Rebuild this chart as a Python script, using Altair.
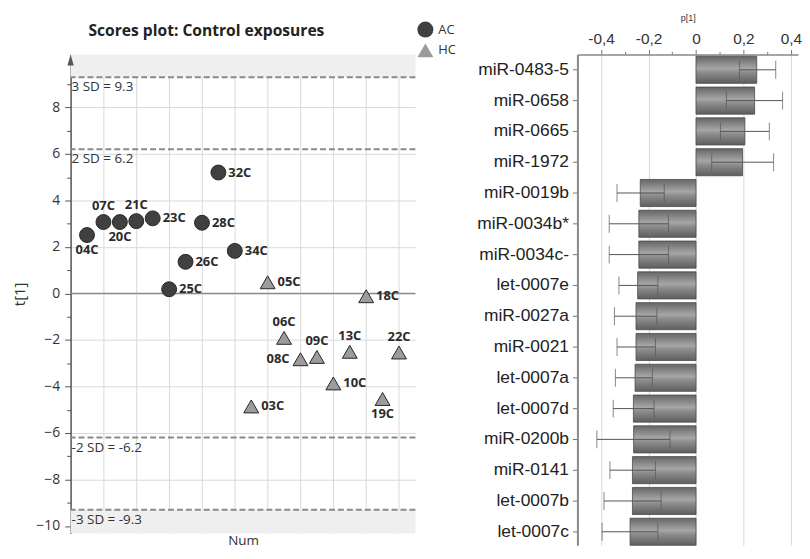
import altair as alt
import pandas as pd

# ---------------- data: scores plot ----------------
sample_ids = ["04C", "07C", "20C", "21C", "23C", "25C", "26C", "28C", "32C", "34C",
              "03C", "05C", "06C", "08C", "09C", "10C", "13C", "18C", "19C", "22C"]
sample_num = list(range(1, 21))
sample_group = ["AC"] * 10 + ["HC"] * 10
t1_scores = [2.51, 3.07, 3.07, 3.11, 3.23, 0.18, 1.36, 3.04, 5.20, 1.83,
             -4.86, 0.48, -1.91, -2.83, -2.73, -3.87, -2.51, -0.12, -4.54, -2.54]
label_side = ["below", "above", "below", "above", "right", "right", "right", "right", "right", "right",
              "right", "right", "above", "left", "above", "right", "above", "right", "below", "above"]

sd_values = [9.3, 6.2, -6.2, -9.3]
sd_labels = ["3 SD = 9.3", "2 SD = 6.2", "-2 SD = -6.2", "-3 SD = -9.3"]

t_range = [-10.32, 10.28]
num_range = [0, 21]

# ---------------- data: loadings plot ----------------
mirna_names = ["miR-0483-5", "miR-0658", "miR-0665", "miR-1972", "miR-0019b", "miR-0034b*",
               "miR-0034c-", "let-0007e", "miR-0027a", "miR-0021", "let-0007a", "let-0007d",
               "miR-0200b", "miR-0141", "let-0007b", "let-0007c"]
p1_values = [0.256, 0.247, 0.206, 0.196, -0.235, -0.241, -0.241, -0.246, -0.253, -0.253,
             -0.257, -0.264, -0.263, -0.268, -0.268, -0.278]
err_lo = [0.183, 0.128, 0.103, 0.066, -0.333, -0.366, -0.366, -0.325, -0.344, -0.333,
          -0.340, -0.349, -0.418, -0.363, -0.388, -0.396]
err_hi = [0.336, 0.365, 0.309, 0.327, -0.134, -0.116, -0.116, -0.161, -0.165, -0.171,
          -0.184, -0.177, -0.110, -0.171, -0.147, -0.161]
p_range = [-0.5, 0.43]

FONT_L = "Open Sans"
FONT_R = "Liberation Sans"
GRID = "#d9d9d9"

# ---------------- left chart ----------------
scores = pd.DataFrame({"id": sample_ids, "num": sample_num, "t1": t1_scores,
                       "group": sample_group, "side": label_side})
sd_df = pd.DataFrame({"v": sd_values, "lab": sd_labels, "x0": [0] * 4})
band_df = pd.DataFrame({"lo": [sd_values[0], t_range[0]], "hi": [t_range[1], sd_values[3]]})
zero_df = pd.DataFrame({"v": [0]})
arrow_df = pd.DataFrame({"x": [0], "y": [t_range[1]]})

xs = alt.Scale(domain=num_range, nice=False, zero=False)
ys = alt.Scale(domain=t_range, nice=False, zero=False)

y_axis_l = alt.Axis(
    values=list(range(-10, 10)),
    labelExpr="datum.value % 2 == 0 ? datum.label : ''",
    labelOverlap=False,
    grid=True, gridColor=GRID,
    gridOpacity={"condition": {"test": "datum.value % 2 != 0", "value": 0}, "value": 1},
    tickSize={"condition": {"test": "datum.value % 2 != 0", "value": 4}, "value": 6},
    tickColor="#555", domainColor="#555", domainWidth=1.5,
    labelFontSize=14, labelColor="#333", labelFont=FONT_L, labelPadding=5,
    title="t[1]", titleFontSize=15, titleFontWeight="normal", titleFont=FONT_L,
    titleColor="#333", titlePadding=8,
)
x_axis_l = alt.Axis(
    values=list(range(2, 21, 2)), labels=False, ticks=False, domain=False,
    grid=True, gridColor=GRID,
    title="Num", titleFontSize=13.5, titleFontWeight="normal", titleFont=FONT_L,
    titleColor="#333", titlePadding=0,
)

def XL(field, **kw):
    return alt.X(field, scale=xs, axis=x_axis_l, **kw)

def YL(field, **kw):
    return alt.Y(field, scale=ys, axis=y_axis_l, **kw)

base_l = alt.Chart(scores)

bands = alt.Chart(band_df).mark_rect(color="#efefef").encode(
    y=YL("lo:Q"), y2="hi:Q",
    x=alt.X(datum=num_range[0], scale=xs, axis=x_axis_l),
    x2=alt.datum(num_range[1]),
)
zero_line = alt.Chart(zero_df).mark_rule(color="#8a8a8a", strokeWidth=1.2).encode(y=YL("v:Q"))
sd_lines = alt.Chart(sd_df).mark_rule(color="#8a8a8a", strokeWidth=2, strokeDash=[6, 3]).encode(
    y=YL("v:Q")
)
sd_text = alt.Chart(sd_df).mark_text(align="left", baseline="top", dx=1, dy=3,
                                     font=FONT_L, fontSize=13.5, color="#333").encode(
    x=XL("x0:Q"), y=YL("v:Q"), text="lab:N"
)
arrow = alt.Chart(arrow_df).mark_point(shape="M0,0L0.9,3.2L-0.9,3.2Z", size=49, filled=True,
                                       color="#555", opacity=1).encode(
    x=XL("x:Q"), y=YL("y:Q")
)
leg = alt.Legend(title=None, orient="none", legendX=348, legendY=-34,
                 labelFont=FONT_L, labelFontSize=13, labelColor="#333",
                 symbolSize=260, symbolStrokeColor="#262626",
                 symbolStrokeWidth=1, rowPadding=1, padding=0)
points = base_l.mark_point(filled=True, size=225, stroke="#262626", strokeWidth=1, opacity=1).encode(
    x=XL("num:Q"),
    y=YL("t1:Q"),
    shape=alt.Shape("group:N", scale=alt.Scale(domain=["AC", "HC"], range=["circle", "triangle-up"]),
                    legend=leg),
    fill=alt.Fill("group:N", scale=alt.Scale(domain=["AC", "HC"], range=["#404040", "#9c9c9c"]),
                  legend=leg),
)

label_style = dict(font=FONT_L, fontSize=13, fontWeight="bold", color="#2a2a2a")
def labels(side, **kw):
    return base_l.transform_filter(alt.datum.side == side).mark_text(**label_style, **kw).encode(
        x=XL("num:Q"), y=YL("t1:Q"), text="id:N"
    )

lab_right = labels("right", align="left", baseline="middle", dx=10)
lab_left = labels("left", align="right", baseline="middle", dx=-11)
lab_above = labels("above", align="center", baseline="alphabetic", dy=-12)
lab_below = labels("below", align="center", baseline="top", dy=9)

left = alt.layer(bands, zero_line, sd_lines, sd_text, arrow, points,
                 lab_right, lab_left, lab_above, lab_below).properties(
    width=347, height=482,
    title=alt.TitleParams("Scores plot: Control exposures", anchor="start", frame="group", dx=18,
                          font=FONT_L, fontSize=15.7, fontWeight="bold", color="#222", offset=15),
)

# ---------------- right chart ----------------
loadings = pd.DataFrame({"name": mirna_names, "p1": p1_values, "lo": err_lo, "hi": err_hi})
xr = alt.Scale(domain=p_range, nice=False, zero=False)
yr = alt.Scale(domain=mirna_names, paddingInner=0.12, paddingOuter=0.03, align=1)

x_axis_r = alt.Axis(
    orient="top",
    values=[-0.4, -0.3, -0.2, -0.1, 0, 0.1, 0.2, 0.3, 0.4],
    labelExpr="abs(round(datum.value*10)) % 2 == 1 ? '' : (datum.value == 0 ? '0' : "
              "(datum.value < 0 ? '-' : '') + replace(format(abs(datum.value), '.1f'), '.', ','))",
    labelOverlap=False,
    grid=True, gridColor=GRID,
    gridOpacity={"condition": {"test": "abs(round(datum.value*10)) % 2 == 1", "value": 0}, "value": 1},
    tickSize={"condition": {"test": "abs(round(datum.value*10)) % 2 == 1", "value": 3}, "value": 5},
    tickColor="#777", domainColor="#888", domainWidth=1.5,
    labelFont=FONT_R, labelFontSize=15.5, labelColor="#333", labelPadding=3,
    title="p[1]", titleFont=FONT_R, titleFontSize=9, titleFontWeight="normal",
    titleColor="#333", titlePadding=9,
)
y_axis_r = alt.Axis(
    title=None, labelFont=FONT_R, labelFontSize=17.5, labelColor="#222", labelPadding=4,
    tickColor="#777", tickSize=5, domainColor="#888", domainWidth=2, labelLimit=200,
)

def XR(field):
    return alt.X(field, scale=xr, axis=x_axis_r)

def YR():
    return alt.Y("name:N", scale=yr, sort=mirna_names, axis=y_axis_r)

grad = alt.Gradient(gradient="linear", x1=0, x2=0, y1=0, y2=1,
                    stops=[alt.GradientStop(color="#666666", offset=0),
                           alt.GradientStop(color="#a6a6a6", offset=0.45),
                           alt.GradientStop(color="#8c8c8c", offset=0.6),
                           alt.GradientStop(color="#5e5e5e", offset=1)])

base_r = alt.Chart(loadings)
bars = base_r.mark_bar(fill=grad, stroke="#4a4a4a", strokeWidth=0.8).encode(
    x=XR("p1:Q"), x2=alt.datum(0), y=YR(),
)
err = base_r.mark_rule(color="#555", strokeWidth=1).encode(x=XR("lo:Q"), x2="hi:Q", y=YR())
cap_lo = base_r.mark_tick(color="#555", thickness=1, size=18, orient="vertical").encode(
    x=XR("lo:Q"), y=YR()
)
cap_hi = base_r.mark_tick(color="#555", thickness=1, size=18, orient="vertical").encode(
    x=XR("hi:Q"), y=YR()
)
right = alt.layer(bars, err, cap_lo, cap_hi).properties(width=222, height=494)

chart = alt.hconcat(left, right, spacing=163, bounds="flush").properties(
    padding={"left": 4, "top": 4, "right": 0, "bottom": 0}
).resolve_scale(x="independent", y="independent").configure_view(stroke=None)

chart.save("out.html", embed_options={"renderer": "svg", "actions": False})
